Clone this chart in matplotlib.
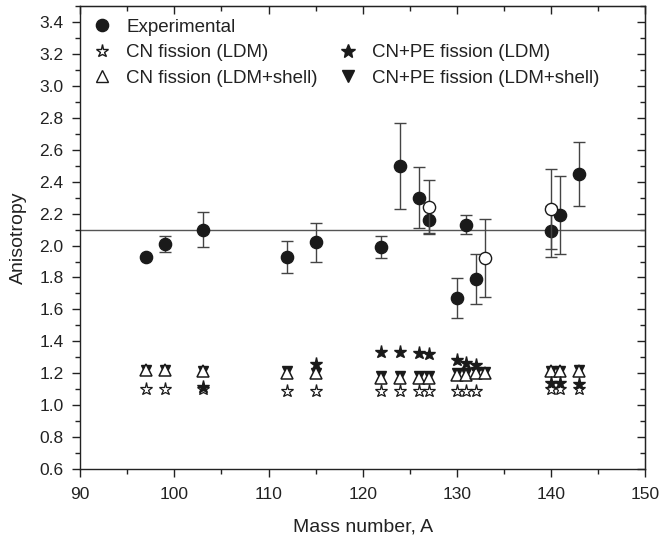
import matplotlib.pyplot as plt
from matplotlib.lines import Line2D
from matplotlib.ticker import MultipleLocator

plt.rcParams['font.family'] = ['Liberation Sans', 'DejaVu Sans']

# Experimental anisotropies (filled circles)
A_exp = [97, 99, 103, 112, 115, 122, 124, 126, 127, 130, 131, 132, 140, 141, 143]
aniso_exp = [1.93, 2.01, 2.10, 1.93, 2.02, 1.99, 2.50, 2.30, 2.16, 1.67, 2.13, 1.79, 2.09, 2.19, 2.45]
err_exp = [0.0, 0.05, 0.11, 0.10, 0.12, 0.07, 0.27, 0.19, 0.08, 0.125, 0.06, 0.155, 0.16, 0.245, 0.20]

# other experimental values (open circles)
A_open = [127, 133, 140]
aniso_open = [2.24, 1.92, 2.23]
err_open = [0.17, 0.245, 0.25]

# CN fission (LDM), open stars
A_cn_ldm = [97, 99, 103, 112, 115, 122, 124, 126, 127, 130, 131, 132, 140, 141, 143]
cn_ldm = [1.10, 1.10, 1.10, 1.09, 1.09, 1.09, 1.09, 1.09, 1.09, 1.09, 1.09, 1.09, 1.10, 1.10, 1.10]

# CN fission (LDM+shell), open up triangles
A_cn_sh = [97, 99, 103, 112, 115, 122, 124, 126, 127, 130, 131, 132, 133, 140, 141, 143]
cn_sh = [1.22, 1.22, 1.21, 1.20, 1.20, 1.17, 1.17, 1.17, 1.17, 1.19, 1.19, 1.20, 1.20, 1.21, 1.21, 1.21]

# CN+PE fission (LDM), filled stars
A_pe_ldm = [103, 115, 122, 124, 126, 127, 130, 131, 132, 140, 141, 143]
pe_ldm = [1.115, 1.26, 1.33, 1.33, 1.325, 1.32, 1.28, 1.265, 1.25, 1.135, 1.135, 1.13]

# CN+PE fission (LDM+shell), filled down triangles
A_pe_sh = [97, 99, 103, 112, 115, 122, 124, 126, 127, 130, 131, 132, 133, 140, 141, 143]
pe_sh = [1.22, 1.22, 1.21, 1.21, 1.20, 1.18, 1.18, 1.18, 1.18, 1.20, 1.20, 1.205, 1.205, 1.21, 1.21, 1.22]

ref_level = 2.1

ink = '#1a1a1a'

fig = plt.figure(figsize=(6.63, 5.40), dpi=100)
ax = fig.add_axes([0.121, 0.132, 0.852, 0.856])

ax.axhline(ref_level, color='#555555', lw=1.0, zorder=1)

ax.errorbar(A_exp, aniso_exp, yerr=err_exp, fmt='o', color=ink, ms=8.8,
            ecolor='#444444', elinewidth=1.0, capsize=4, capthick=1.0, zorder=3)
ax.errorbar(A_open, aniso_open, yerr=err_open, fmt='o', mfc='white', mec=ink,
            ms=8.8, ecolor='#444444', elinewidth=1.0, capsize=4, capthick=1.0, zorder=4)

ax.plot(A_pe_sh, pe_sh, 'v', color=ink, ms=7, ls='none', zorder=2)
ax.plot(A_cn_sh, cn_sh, '^', mfc='white', mec=ink, mew=1.1, ms=8.5, ls='none', zorder=2.5)
ax.plot(A_cn_ldm, cn_ldm, '*', mfc='white', mec=ink, mew=0.9, ms=9.5, ls='none', zorder=2.5)
ax.plot(A_pe_ldm, pe_ldm, '*', color=ink, ms=9.5, ls='none', zorder=2.6)

ax.set_xlim(90, 150)
ax.set_ylim(0.6, 3.5)
ax.xaxis.set_major_locator(MultipleLocator(10))
ax.xaxis.set_minor_locator(MultipleLocator(5))
ax.yaxis.set_major_locator(MultipleLocator(0.2))
ax.yaxis.set_minor_locator(MultipleLocator(0.1))
ax.yaxis.set_major_formatter(plt.FormatStrFormatter('%.1f'))
ax.tick_params(which='both', direction='out', labelsize=12.5, colors='#222222')
ax.tick_params(which='major', length=6, width=1.0)
ax.tick_params(which='minor', length=3.5, width=1.0)
ax.tick_params(axis='x', pad=7)
ax.tick_params(axis='y', pad=6)

# mirrored ticks on top and right, pointing inward
top = ax.secondary_xaxis('top')
top.xaxis.set_major_locator(MultipleLocator(10))
top.xaxis.set_minor_locator(MultipleLocator(5))
right = ax.secondary_yaxis('right')
right.yaxis.set_major_locator(MultipleLocator(0.2))
right.yaxis.set_minor_locator(MultipleLocator(0.1))
for twin in (top, right):
    twin.tick_params(which='both', direction='in', colors='#222222',
                     labeltop=False, labelright=False)
    twin.tick_params(which='major', length=6, width=1.0)
    twin.tick_params(which='minor', length=3.5, width=1.0)
for spine in ax.spines.values():
    spine.set_linewidth(1.0)
    spine.set_color('#222222')

ax.set_xlabel('Mass number, A', fontsize=14, color='#222222', labelpad=12)
ax.set_ylabel('Anisotropy', fontsize=14, color='#222222', labelpad=9)

h_exp = Line2D([], [], marker='o', color=ink, ls='none', ms=8.8)
h_cn_ldm = Line2D([], [], marker='*', mfc='white', mec=ink, ls='none', ms=9.5)
h_cn_sh = Line2D([], [], marker='^', mfc='white', mec=ink, ls='none', ms=8.5)
h_blank = Line2D([], [], ls='none', marker='none')
h_pe_ldm = Line2D([], [], marker='*', color=ink, ls='none', ms=10)
h_pe_sh = Line2D([], [], marker='v', color=ink, ls='none', ms=9)
ax.legend([h_exp, h_cn_ldm, h_cn_sh, h_blank, h_pe_ldm, h_pe_sh],
          ['Experimental', 'CN fission (LDM)', 'CN fission (LDM+shell)', '',
           'CN+PE fission (LDM)', 'CN+PE fission (LDM+shell)'],
          ncol=2, loc='upper left', frameon=False, fontsize=13.5, handlelength=1.0,
          handletextpad=0.8, columnspacing=1.1, labelspacing=0.45,
          borderaxespad=0.3, borderpad=0.35, labelcolor='#222222')

fig.savefig('out.png', dpi=100)
